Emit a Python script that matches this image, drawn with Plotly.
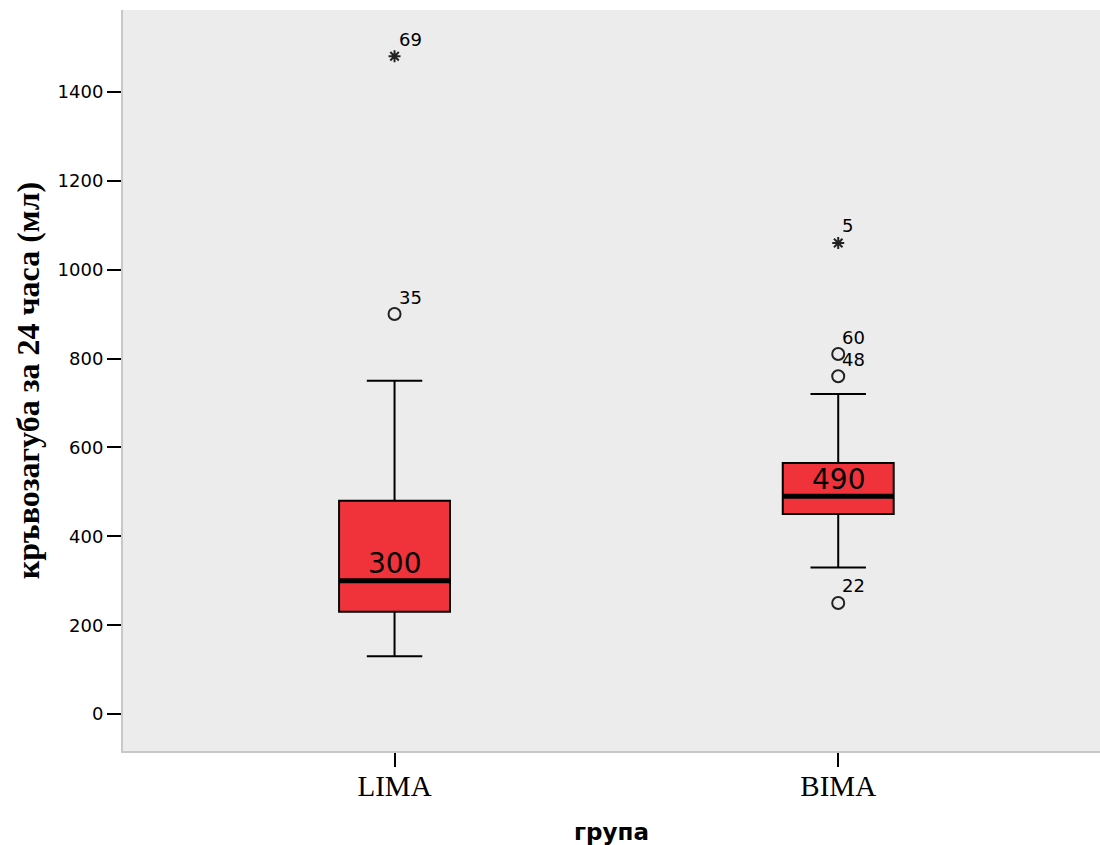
import plotly.graph_objects as go

# ---- data ----
groups = ["LIMA", "BIMA"]
positions = [0, 1]
q1 = [230, 450]
median = [300, 490]
q3 = [480, 565]
lower_whisker = [130, 330]
upper_whisker = [750, 720]

outlier_group = [0, 1, 1, 1]
outlier_values = [900, 250, 760, 810]
outlier_ids = ["35", "22", "48", "60"]

extreme_group = [0, 1]
extreme_values = [1480, 1060]
extreme_ids = ["69", "5"]

box_width = 0.25
fill = "#F0333A"

fig = go.Figure()

for i, g in enumerate(groups):
    fig.add_trace(go.Box(
        x=[positions[i]], q1=[q1[i]], median=[median[i]], q3=[q3[i]],
        lowerfence=[lower_whisker[i]], upperfence=[upper_whisker[i]],
        width=box_width, whiskerwidth=0.5, boxpoints=False,
        fillcolor=fill, line=dict(color="black", width=2),
        showlegend=False, hoverinfo="skip"))
    # thick median line
    fig.add_trace(go.Scatter(
        x=[positions[i] - box_width / 2, positions[i] + box_width / 2],
        y=[median[i], median[i]], mode="lines",
        line=dict(color="black", width=5), showlegend=False, hoverinfo="skip"))
    fig.add_annotation(x=positions[i], y=median[i], text=str(median[i]),
                       showarrow=False, yshift=17, yanchor="middle",
                       font=dict(family="DejaVu Sans", size=28, color="black"))

fig.add_trace(go.Scatter(
    x=[positions[g] for g in outlier_group], y=outlier_values, mode="markers",
    marker=dict(symbol="circle-open", size=12, color="#222", line=dict(width=2)),
    showlegend=False, hoverinfo="skip"))
fig.add_trace(go.Scatter(
    x=[positions[g] for g in extreme_group], y=extreme_values, mode="markers",
    marker=dict(symbol="asterisk-open", size=10, color="#222", line=dict(width=2)),
    showlegend=False, hoverinfo="skip"))

for g, v, t in list(zip(outlier_group, outlier_values, outlier_ids)) + list(zip(extreme_group, extreme_values, extreme_ids)):
    fig.add_annotation(x=positions[g], y=v, text=t, showarrow=False,
                       xanchor="left", yanchor="middle", xshift=2, yshift=17,
                       font=dict(family="DejaVu Sans", size=18, color="black"))

fig.update_layout(
    width=1100, height=845,
    margin=dict(l=123, r=0, t=10, b=94),
    paper_bgcolor="white", plot_bgcolor="#ECECEC",
    xaxis=dict(range=[-0.612, 1.59], tickvals=positions, ticktext=groups,
               showgrid=False, zeroline=False, showline=True, linecolor="#C8C8C8",
               linewidth=2, ticks="outside", ticklen=14, tickcolor="black", tickwidth=2,
               ticklabelstandoff=-6,
               tickfont=dict(family="Liberation Serif", size=29, color="black"),
               title=dict(text="<b>група</b>", standoff=24,
                          font=dict(family="DejaVu Sans", size=23, color="black"))),
    yaxis=dict(range=[-83, 1584], tickvals=[0, 200, 400, 600, 800, 1000, 1200, 1400],
               showgrid=False, zeroline=False, showline=True, linecolor="#C8C8C8",
               linewidth=2, ticks="outside", ticklen=14, tickcolor="black", tickwidth=2,
               tickfont=dict(family="DejaVu Sans", size=18, color="black"),
               title=dict(text="<b>кръвозагуба за 24 часа (мл)</b>", standoff=8,
                          font=dict(family="Liberation Serif", size=32, color="black"))),
)

fig.write_html("out.html")
